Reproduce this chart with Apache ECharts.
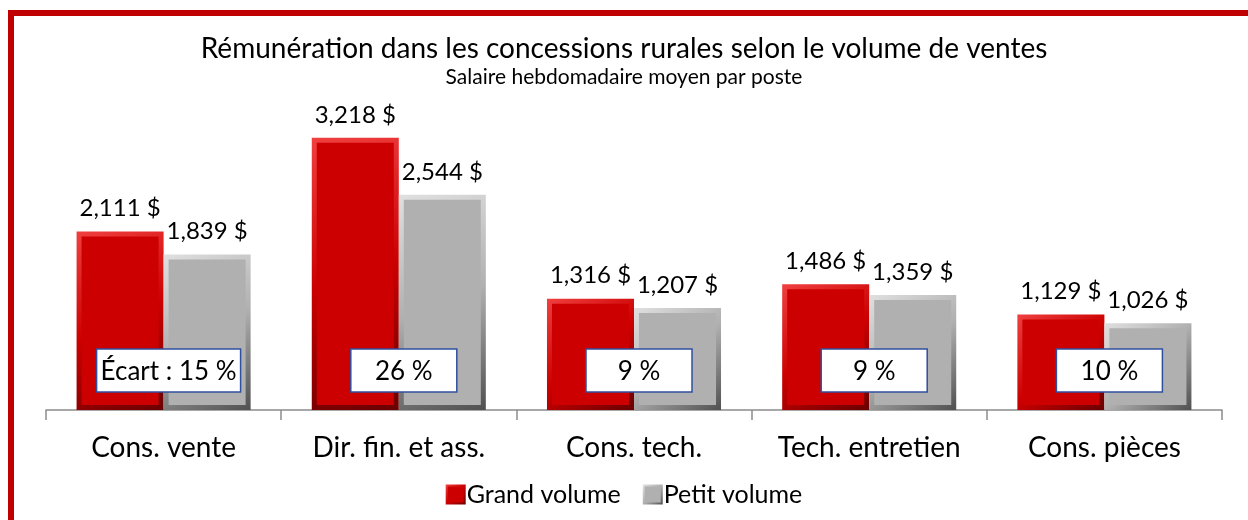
<!DOCTYPE html>
<html>
<head>
	<meta charset="utf-8">
	<title>Rémunération</title>
	<script src="https://cdn.jsdelivr.net/npm/echarts@6/dist/echarts.min.js"></script>
	<style>
		html, body { margin: 0; padding: 0; background: #fff; }
		#frame { position: absolute; left: 8px; top: 10px; width: 1240px; height: 510px; border-left: 6px solid #C00000; border-top: 6px solid #C00000; }
		#DIV1 { position: absolute; left: 0; top: 0; width: 1248px; height: 520px; }
	</style>
</head>
<body>
	<div id="frame"></div>
	<div id="DIV1"></div>

	<script type="text/javascript">
		const categories = ["Cons. vente", "Dir. fin. et ass.", "Cons. tech.", "Tech. entretien", "Cons. pièces"];
		const grandVolume = [2111, 3218, 1316, 1486, 1129];
		const petitVolume = [1839, 2544, 1207, 1359, 1026];
		const ecarts = ["Écart : 15 %", "26 %", "9 %", "9 %", "10 %"];

		const FONT = "Lato";

		const bevel = function(face, light, dark){
			return {
				color: face,
				borderWidth: 5,
				borderColor: {
					type: "linear", x: 0, y: 0, x2: 1, y2: 1,
					colorStops: [
						{ offset: 0, color: light },
						{ offset: 0.5, color: face },
						{ offset: 1, color: dark }
					]
				}
			};
		};

		const fmt = function(v){
			return v.toLocaleString("en-US") + " $";
		};

		const measure = (function(){
			const ctx = document.createElement("canvas").getContext("2d");
			return function(txt, size){
				ctx.font = size + "px " + FONT;
				return ctx.measureText(txt).width;
			};
		})();

		const chart = echarts.init(document.getElementById("DIV1"), null, { renderer: "canvas" });

		const option = {
			backgroundColor: "transparent",
			textStyle: { fontFamily: FONT },
			title: {
				text: "Rémunération dans les concessions rurales selon le volume de ventes",
				subtext: "Salaire hebdomadaire moyen par poste",
				left: "center",
				top: 30,
				itemGap: 4,
				textStyle: { fontFamily: FONT, fontSize: 28, fontWeight: "normal", color: "#000" },
				subtextStyle: { fontFamily: FONT, fontSize: 21, color: "#000" }
			},
			legend: {
				bottom: 8,
				left: "center",
				itemWidth: 18,
				itemHeight: 18,
				itemGap: 22,
				icon: "rect",
				textStyle: { fontFamily: FONT, fontSize: 25, color: "#000", padding: [0, 0, 0, -3] },
				data: ["Grand volume", "Petit volume"]
			},
			grid: { left: 46, right: 26, top: 114, bottom: 110, containLabel: false },
			xAxis: {
				type: "category",
				data: categories,
				axisLine: { lineStyle: { color: "#8c8c8c", width: 1.5 } },
				axisTick: { show: true, length: 10, alignWithLabel: false, lineStyle: { color: "#8c8c8c", width: 1.5 } },
				axisLabel: { interval: 0, hideOverlap: false, fontFamily: FONT, fontSize: 28, color: "#000", margin: 24 }
			},
			yAxis: {
				type: "value",
				min: 0,
				max: 3500,
				show: false,
				splitLine: { show: false }
			},
			series: [
				{
					name: "Grand volume",
					type: "bar",
					data: grandVolume,
					barCategoryGap: "26%",
					barGap: "0%",
					itemStyle: bevel("#CC0000", "#F04040", "#6A0000"),
					label: {
						show: true, position: "top", distance: 11,
						fontFamily: FONT, fontSize: 24, color: "#000",
						formatter: function(p){ return fmt(p.value); }
					}
				},
				{
					name: "Petit volume",
					type: "bar",
					data: petitVolume,
					itemStyle: bevel("#B0B0B0", "#E0E0E0", "#505050"),
					label: {
						show: true, position: "top", distance: 11,
						fontFamily: FONT, fontSize: 24, color: "#000",
						formatter: function(p){ return fmt(p.value); }
					}
				},
				{
					name: "ecart",
					type: "custom",
					silent: true,
					z: 5,
					data: ecarts.map(function(t, i){ return [i, 0, t]; }),
					renderItem: function(params, api){
						const i = api.value(0);
						const base = api.coord([i, 0]);
						const txt = ecarts[i];
						const w = Math.max(106, measure(txt, 26) + 8);
						const h = 43;
						const cx = base[0] + 5;
						const top = base[1] - 61;
						return {
							type: "group",
							children: [
								{
									type: "rect",
									shape: { x: cx - w / 2, y: top, width: w, height: h },
									style: { fill: "#fff", stroke: "#2F4F9F", lineWidth: 1.5 }
								},
								{
									type: "text",
									style: {
										x: cx, y: top + h / 2 + 1,
										text: txt,
										align: "center", verticalAlign: "middle",
										font: "26px " + FONT,
										fill: "#000"
									}
								}
							]
						};
					}
				}
			]
		};

		chart.setOption(option);
	</script>
</body>
</html>
